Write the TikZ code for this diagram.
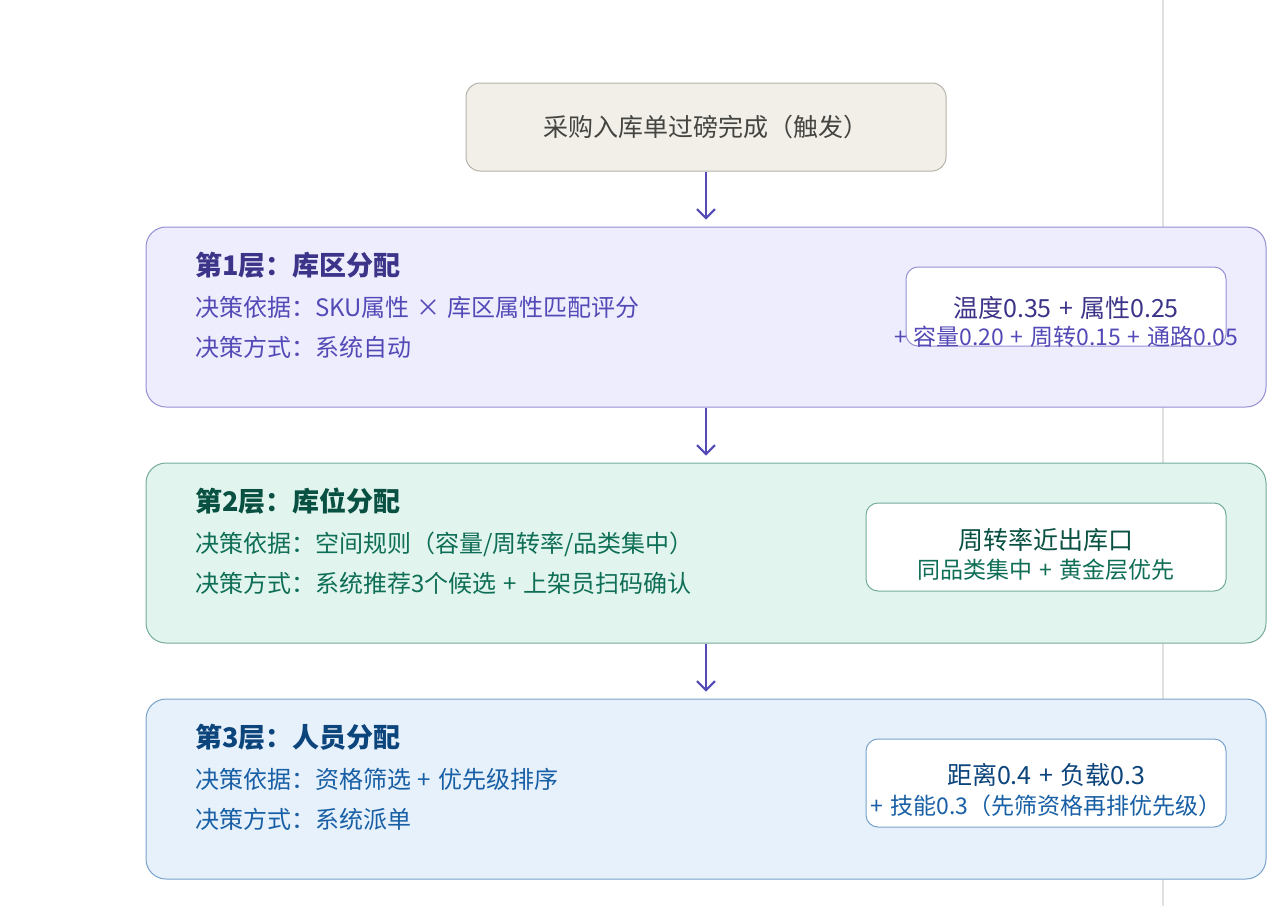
\documentclass[tikz,border=0pt]{standalone}
\usepackage{fontspec}
\setmainfont{Noto Sans CJK SC}[WordSpace=1.3]
\usepackage{xcolor}
\usetikzlibrary{arrows.meta, positioning}

\definecolor{trigfill}{HTML}{F1EFE8}
\definecolor{trigline}{HTML}{B4B2A9}
\definecolor{trigtext}{HTML}{444441}
\definecolor{purpfill}{HTML}{EEEDFE}
\definecolor{purpdark}{HTML}{3C3489}
\definecolor{purpmid}{HTML}{534AB7}
\definecolor{tealfill}{HTML}{E1F5EE}
\definecolor{tealdark}{HTML}{085041}
\definecolor{tealmid}{HTML}{0F6E56}
\definecolor{bluefill}{HTML}{E6F1FB}
\definecolor{bluedark}{HTML}{0C447C}
\definecolor{bluemid}{HTML}{185FA5}

\begin{document}
\begin{tikzpicture}[x=1pt,y=-1pt,node distance=55pt,line width=1pt]
  \tikzstyle{layer}=[draw, rounded corners=20pt, minimum width=1120pt, minimum height=180pt]
  \tikzstyle{rule}=[draw, fill=white, rounded corners=12pt, minimum width=360pt, minimum height=88pt]
  \tikzstyle{title}=[anchor=base west, inner sep=0pt, font=\fontsize{27}{31}\selectfont\bfseries]
  \tikzstyle{body}=[anchor=base west, inner sep=0pt, font=\fontsize{24}{28}\selectfont]
  \tikzstyle{big}=[anchor=base, inner sep=0pt, font=\fontsize{25}{29}\selectfont]
  \tikzstyle{small}=[anchor=base, inner sep=0pt, font=\fontsize{23}{27}\selectfont]

  \useasboundingbox (0,0) rectangle (1286,906);
  \draw[black!12, line width=1.5pt] (1163,0) -- (1163,906);

  \node[draw=trigline, fill=trigfill, rounded corners=14pt, minimum width=480pt,
        minimum height=88pt, text=trigtext, font=\fontsize{25}{29}\selectfont]
        (trig) at (706,127) {采购入库单过磅完成（触发）};

  % layer 1
  \node[layer, draw=purpmid!62!white, fill=purpfill](l1)[below=of trig]{};
  \node[title, text=purpdark](t1) at ([xshift=49pt,yshift=-49pt]l1.north west){第1层：库区分配};
  \node[body, text=purpmid](b1) at ([xshift=49pt,yshift=-90pt]l1.north west){决策依据：SKU属性 × 库区属性匹配评分};
  \node[body, text=purpmid](m1) at ([xshift=49pt,yshift=-130pt]l1.north west){决策方式：系统自动};
  \node[rule, draw=purpmid!62!white, minimum width=320pt, minimum height=79pt, anchor=north east]
       (r1) at ([xshift=-40pt,yshift=-40pt]l1.north east){};
  \node[big, text=purpdark](r1a) at ([yshift=-51pt]r1.north){温度0.35 + 属性0.25};
  \node[small, text=purpmid](r1b) at ([yshift=-79pt]r1.north){+ 容量0.20 + 周转0.15 + 通路0.05};

  % layer 2
  \node[layer, draw=tealmid!58!white, fill=tealfill](l2)[below=of l1]{};
  \node[title, text=tealdark](t2) at ([xshift=49pt,yshift=-49pt]l2.north west){第2层：库位分配};
  \node[body, text=tealmid](b2) at ([xshift=49pt,yshift=-90pt]l2.north west){决策依据：空间规则（容量/周转率/品类集中）};
  \node[body, text=tealmid](m2) at ([xshift=49pt,yshift=-130pt]l2.north west){决策方式：系统推荐3个候选 + 上架员扫码确认};
  \node[rule, draw=tealmid!58!white, anchor=north east]
       (r2) at ([xshift=-40pt,yshift=-40pt]l2.north east){};
  \node[big, text=tealdark](r2a) at ([yshift=-47pt]r2.north){周转率近出库口};
  \node[small, text=tealmid](r2b) at ([yshift=-76pt]r2.north){同品类集中 + 黄金层优先};

  % layer 3
  \node[layer, draw=bluemid!58!white, fill=bluefill](l3)[below=of l2]{};
  \node[title, text=bluedark](t3) at ([xshift=49pt,yshift=-49pt]l3.north west){第3层：人员分配};
  \node[body, text=bluemid](b3) at ([xshift=49pt,yshift=-90pt]l3.north west){决策依据：资格筛选 + 优先级排序};
  \node[body, text=bluemid](m3) at ([xshift=49pt,yshift=-130pt]l3.north west){决策方式：系统派单};
  \node[rule, draw=bluemid!58!white, anchor=north east]
       (r3) at ([xshift=-40pt,yshift=-40pt]l3.north east){};
  \node[big, text=bluedark](r3a) at ([yshift=-46pt]r3.north){距离0.4 + 负载0.3};
  \node[small, text=bluemid](r3b) at ([yshift=-76pt]r3.north){+ 技能0.3（先筛资格再排优先级）};

  \path[->, >={Straight Barb[length=9pt,width=18pt]}, draw=purpmid, line width=2pt, shorten >=7pt]
  (trig) edge (l1)
  (l1)   edge (l2)
  (l2)   edge (l3);
\end{tikzpicture}
\end{document}
